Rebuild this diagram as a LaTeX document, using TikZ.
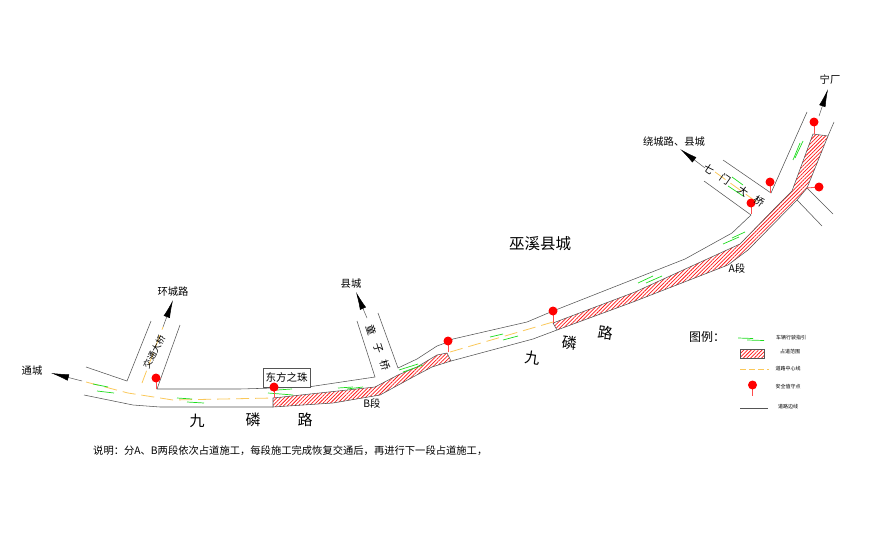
\documentclass[tikz,border=0pt]{standalone}
\usepackage{fontspec}
\usetikzlibrary{arrows.meta,patterns.meta}
\setmainfont{Noto Sans CJK SC}
\definecolor{roadgray}{RGB}{85,85,85}
\definecolor{midline}{RGB}{250,200,90}
\definecolor{guide}{RGB}{30,220,30}
\tikzset{
  edgeline/.style={roadgray,line width=0.55pt},
  centerline/.style={midline,line width=0.8pt,dash pattern=on 13pt off 6pt},
  guideline/.style={guide,line width=0.7pt},
  zone/.style={roadgray,line width=0.55pt,pattern={Lines[angle=45,distance=2.6pt,line width=0.75pt]},pattern color=red!90},
  stem/.style={red!70,line width=0.8pt},
  pinhead/.style={circle,fill=red,inner sep=0pt,minimum size=9pt},
  headarrow/.style={roadgray,line width=0.5pt,-{Latex[length=18pt,width=6.5pt,black]}},
  roadname/.style={font=\fontsize{15}{15}\selectfont,inner sep=0pt},
  plainlabel/.style={font=\fontsize{10.3}{11}\selectfont,inner sep=0pt},
  keylabel/.style={font=\fontsize{5}{5}\selectfont,inner sep=0pt},
}
\begin{document}
\begin{tikzpicture}[x=1pt,y=-1pt]
  \useasboundingbox (0,0) rectangle (874,546);
  % occupied zones
  \draw[zone] (273,398) -- (375,387) -- (398,375) -- (417,367) -- (437,355) -- (447,353) -- (451,361)
    -- (432,367) -- (413,377) -- (380,395) -- (333,403) -- (273,407) -- cycle;
  \draw[zone] (553,323) -- (635,292) -- (740,244) -- (778,205) -- (792,191) -- (813,134) -- (828,136)
    -- (807,188) -- (797,200) -- (748,250) -- (728,265) -- (633,302) -- (557,330) -- cycle;
  % road edges
  \draw[edgeline] (86,367) -- (127,381) -- (151,321);
  \draw[edgeline] (180,325) -- (157,389) -- (240,389) -- (308,387) -- (375,377) -- (357,321);
  \draw[edgeline] (378,313) -- (398,368) -- (417,359) -- (437,346) -- (448,342) -- (453,339)
    -- (527,322) -- (553,311) -- (685,259) -- (732,233) -- (751,215) -- (704,181);
  \draw[edgeline] (723,160) -- (771,193) -- (807,112);
  \draw[edgeline] (834,122) -- (828,136);
  \draw[edgeline] (807,188) -- (833,214);
  \draw[edgeline] (797,200) -- (822,226);
  \draw[edgeline] (84,395) -- (133,405) -- (160,407) -- (273,407);
  \draw[edgeline] (451,361) -- (533,339) -- (557,330);
  % center lines
  \draw[centerline] (86,382) -- (128,393) -- (173,400) -- (273,398);
  \draw[centerline] (142,383) -- (163,327);
  \draw[centerline] (450,352) -- (553,322);
  \draw[centerline] (715,172) -- (758,203);
  % traffic guides
  \foreach \ax/\ay/\bx/\by in {93/384/108/387,97/391/114/393,177/398/192/399,187/402/204/403,
      268/393/293/395,277/390/292/389,338/388/353/387,347/389/363/387,399/370/418/364,403/372/423/365,
      490/337/503/334,503/340/518/336,638/283/653/276,646/283/662/276,723/244/739/237,732/238/745/232,
      793/160/800/143,795/158/803/141,732/177/743/185,728/186/743/196}
    \draw[guideline] (\ax,\ay) -- (\bx,\by);
  % arrows
  \draw[headarrow] (82,381) -- (51,373);
  \draw[headarrow] (163,327) -- (173,300);
  \draw[headarrow] (367,318) -- (356,292);
  \draw[headarrow] (705,168) -- (680,149);
  \draw[headarrow] (819,116) -- (828,89);
  % guard points
  \foreach \px/\py/\qx/\qy in {156/378/156/389,274/387/274/398,448/341/448/352,553/311/553/323,
      751/203/751/214,770/182/770/193,814/122/814/134,819/187/807/188}{
    \draw[stem] (\px,\py) -- (\qx,\qy);
    \node[pinhead] at (\px,\py) {};
  }
  % labels
  \node[draw=roadgray,fill=white,line width=0.55pt,minimum width=47pt,minimum height=19pt,inner sep=0pt,font=\fontsize{10.5}{11}\selectfont] (pearl) at (286.5,377.5) {东方之珠};
  \node[pinhead] at (274,387) {};
  \node[plainlabel] (tongcheng) at (32,371) {通城};
  \node[plainlabel] (huancheng) at (173,292) {环城路};
  \node[plainlabel] (xiancheng) at (351,284) {县城};
  \node[plainlabel] (raocheng) at (674,142) {绕城路、县城};
  \node[plainlabel] (ningchang) at (830,80) {宁厂};
  \node[font=\fontsize{9}{9}\selectfont,inner sep=0pt,rotate=62] (jiaotong) at (154,352) {交通大桥};
  \node[plainlabel,rotate=-72] (tong) at (371,330) {童};
  \node[plainlabel,rotate=-72] (zi) at (378,348) {子};
  \node[plainlabel,rotate=-72] (qiao) at (385,365) {桥};
  \node[plainlabel,rotate=-35] (qi) at (709,169) {七};
  \node[plainlabel,rotate=-35] (men) at (725,179) {门};
  \node[plainlabel,rotate=-35] (da) at (743,191) {大};
  \node[plainlabel,rotate=-35] (dq) at (759,201) {桥};
  \node[roadname] (jiu) at (197,421) {九};
  \node[roadname] (lin) at (253,420) {磷};
  \node[roadname] (lu) at (305,420) {路};
  \node[roadname,rotate=-8] (jiub) at (533,358) {九};
  \node[roadname,rotate=-8] (linb) at (570,343) {磷};
  \node[roadname,rotate=-8] (lub) at (606,333) {路};
  \node[font=\fontsize{15.5}{16}\selectfont,inner sep=0pt] (wuxi) at (540,244) {巫溪县城};
  \node[plainlabel] (seca) at (737,269) {A段};
  \node[plainlabel] (secb) at (372,404) {B段};
  \node[plainlabel,anchor=west] (note) at (93,451) {说明：分A、B两段依次占道施工，每段施工完成恢复交通后，再进行下一段占道施工，};
  % legend
  \node[font=\fontsize{12}{12}\selectfont,inner sep=0pt] (keyhead) at (707,337) {图例：};
  \draw[guideline] (738,338) -- (753,338.5);
  \draw[guideline] (747,340) -- (764,340.5);
  \draw[zone] (740,349) rectangle (764,358);
  \draw[centerline,dash pattern=on 6pt off 3pt] (740,369) -- (769,369);
  \draw[stem] (752.5,385) -- (752.5,396);
  \node[pinhead] (keypin) at (752.5,385) {};
  \draw[edgeline] (740,408.5) -- (768,408.5);
  \node[keylabel] (keya) at (791,338) {车辆行驶指引};
  \node[keylabel] (keyb) at (790,352) {占道范围};
  \node[keylabel] (keyc) at (788,369) {道路中心线};
  \node[keylabel] (keyd) at (788,387) {安全值守点};
  \node[keylabel] (keye) at (788,407) {道路边线};
\end{tikzpicture}
\end{document}
